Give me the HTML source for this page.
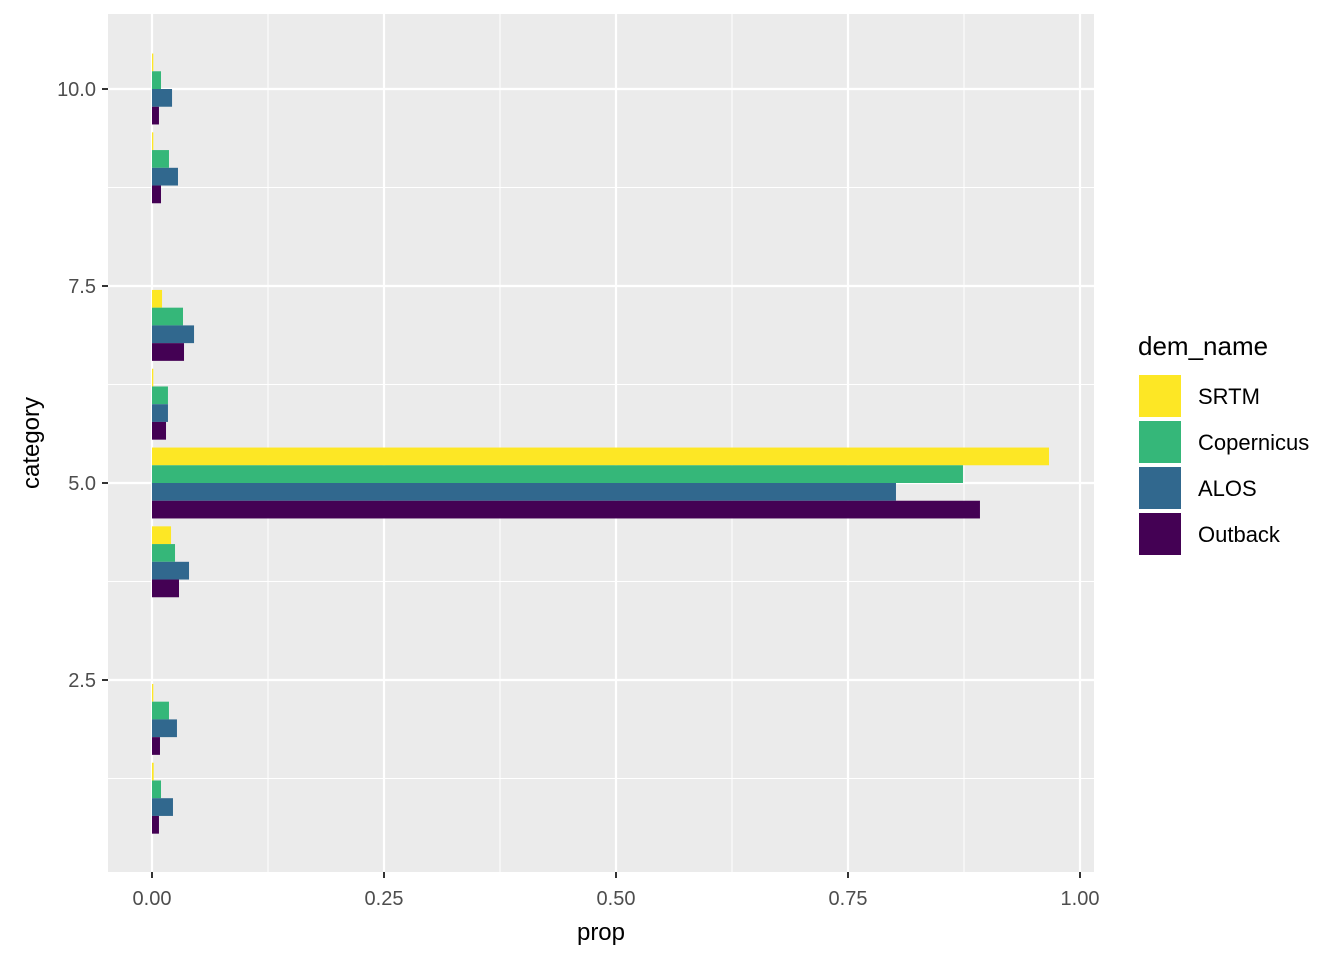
<!DOCTYPE html>
<html><head><meta charset="utf-8"><style>
body{margin:0;background:#fff;}
svg text{font-family:"Liberation Sans",sans-serif;}
</style></head><body>
<svg id="chart" width="1344" height="960" xmlns="http://www.w3.org/2000/svg">
<rect x="108" y="14" width="986" height="858" fill="#ebebeb"/>
<g id="grid"></g><g id="bars"></g><g id="axes"></g>
<text x="601" y="940" text-anchor="middle" font-size="24" fill="#000">prop</text>
<text transform="translate(39,443) rotate(-90)" text-anchor="middle" font-size="24" fill="#000">category</text>
<g id="legend">
<text x="1138" y="355" font-size="26" fill="#000">dem_name</text>
</g>
</svg>
<script>
const categories=[1,2,4,5,6,7,9,10];
const seriesNames=["SRTM","Copernicus","ALOS","Outback"];
const colors=["#fde725","#35b779","#31688e","#440154"];
const srtm=[0.0018,0.0014,0.0205,0.9666,0.0014,0.0108,0.0014,0.0014];
const copernicus=[0.0097,0.0183,0.0248,0.8739,0.0172,0.0334,0.0183,0.0097];
const alos=[0.0226,0.0269,0.0399,0.8017,0.0172,0.0453,0.028,0.0216];
const outback=[0.0075,0.0086,0.0291,0.8922,0.0151,0.0345,0.0097,0.0075];
const xTicks=[0,0.25,0.5,0.75,1];
const xTickLabels=["0.00","0.25","0.50","0.75","1.00"];
const yTicks=[2.5,5,7.5,10];
const yTickLabels=["2.5","5.0","7.5","10.0"];
const NS="http://www.w3.org/2000/svg";
const X=v=>152+v*928;
const Y=v=>483-(v-5)*78.8;
function mk(p,t,a){const e=document.createElementNS(NS,t);for(const k in a)e.setAttribute(k,a[k]);p.appendChild(e);return e;}
const grid=document.getElementById('grid'),bars=document.getElementById('bars'),axes=document.getElementById('axes'),legend=document.getElementById('legend');
for(let i=0;i<xTicks.length-1;i++){const m=(xTicks[i]+xTicks[i+1])/2;
const l=mk(grid,'line',{x1:X(m),x2:X(m),y1:14,y2:872,stroke:'#fff','stroke-width':1});

}
for(let i=0;i<yTicks.length;i++){const m=yTicks[i]-1.25;
const l=mk(grid,'line',{x1:108,x2:1094,y1:Y(m),y2:Y(m),stroke:'#fff','stroke-width':1});

}
xTicks.forEach((t,i)=>{
const l=mk(grid,'line',{x1:X(t),x2:X(t),y1:14,y2:872,stroke:'#fff','stroke-width':2.2});


const tk=mk(axes,'line',{x1:X(t),x2:X(t),y1:872,y2:878,stroke:'#333','stroke-width':2});


const tx=mk(axes,'text',{x:X(t),y:905,'text-anchor':'middle','font-size':20,fill:'#4d4d4d'});
tx.textContent=xTickLabels[i];

});
yTicks.forEach((t,i)=>{
const l=mk(grid,'line',{x1:108,x2:1094,y1:Y(t),y2:Y(t),stroke:'#fff','stroke-width':2.2});


const tk=mk(axes,'line',{x1:102,x2:108,y1:Y(t),y2:Y(t),stroke:'#333','stroke-width':2});


const tx=mk(axes,'text',{x:96,y:Y(t)+7,'text-anchor':'end','font-size':20,fill:'#4d4d4d'});
tx.textContent=yTickLabels[i];

});
const series=[srtm,copernicus,alos,outback];
const bw=0.225;
categories.forEach((c,ci)=>{
series.forEach((s,si)=>{
const top=c+0.45-si*bw;
const r=mk(bars,'rect',{x:X(0),y:Y(top),width:Math.max(0,X(s[ci])-X(0)),height:Y(top-bw)-Y(top),fill:colors[si]});

});});
seriesNames.forEach((n,i)=>{
const y=375+i*46;
const k=mk(legend,'rect',{x:1139,y:y,width:42,height:42,fill:colors[i]});


const t=mk(legend,'text',{x:1198,y:y+29,'font-size':22,fill:'#000'});
t.textContent=n;

});
</script>
</body></html>
